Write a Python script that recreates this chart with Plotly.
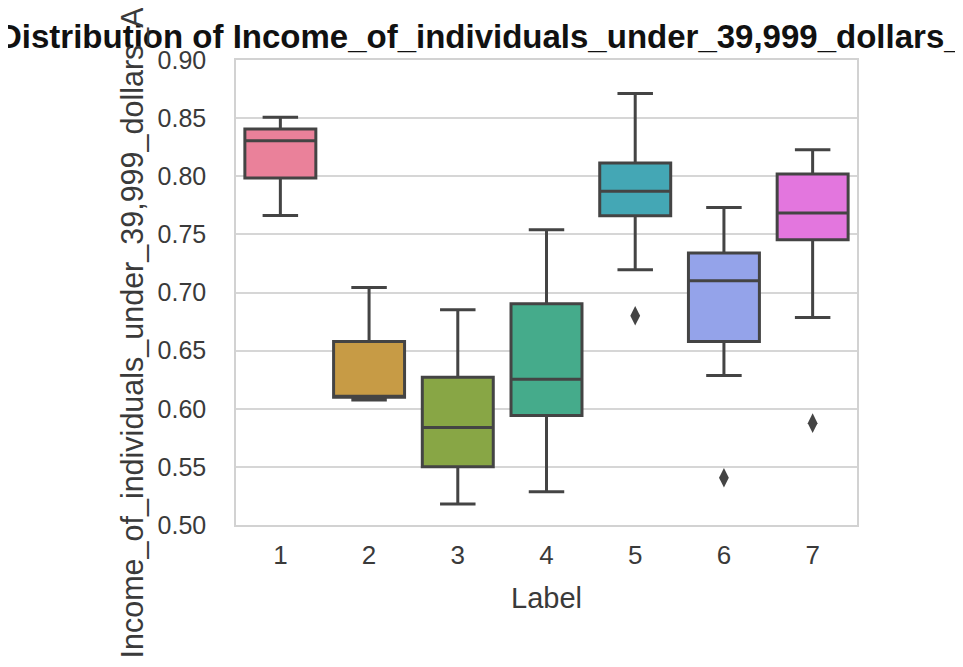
import plotly.graph_objects as go

labels = ["1", "2", "3", "4", "5", "6", "7"]
lower_fence = [0.7663, 0.6075, 0.5181, 0.5287, 0.7196, 0.6286, 0.6785]
q1 = [0.7985, 0.6100, 0.5502, 0.5941, 0.7660, 0.6578, 0.7454]
median = [0.8306, 0.6105, 0.5838, 0.6254, 0.7870, 0.7101, 0.7684]
q3 = [0.8407, 0.6578, 0.6272, 0.6903, 0.8114, 0.7339, 0.8020]
upper_fence = [0.8507, 0.7043, 0.6851, 0.7540, 0.8711, 0.7732, 0.8229]
outlier_labels = ["5", "6", "7"]
outlier_values = [0.6800, 0.5407, 0.5876]
colors = ["#ea819a", "#c79b45", "#88a645", "#45ab8b", "#44a7b5", "#94a3ea", "#e376de"]

var_name = "Income_of_individuals_under_39,999_dollars_AtHome"
title_text = "Distribution of " + var_name

LINE = "#444444"
FONT = "Liberation Sans, Arial, sans-serif"

fig = go.Figure()
for i, lab in enumerate(labels):
    fig.add_trace(go.Box(
        x=[lab], q1=[q1[i]], median=[median[i]], q3=[q3[i]],
        lowerfence=[lower_fence[i]], upperfence=[upper_fence[i]],
        fillcolor=colors[i], line=dict(color=LINE, width=3),
        width=0.8, whiskerwidth=0.5, boxpoints=False, showlegend=False,
    ))

fig.add_trace(go.Scatter(
    x=outlier_labels, y=outlier_values, mode="markers",
    marker=dict(symbol="diamond-tall", size=14, color=LINE),
    showlegend=False,
))

# screen coordinates of the plot area (the page body adds an 8px offset)
OFF = 8
L, R, T, B = 236, 857, 60, 525
W, H = 963, 667
pw, ph = R - L, B - T

fig.update_layout(
    width=W, height=H,
    margin=dict(l=L - OFF, r=W - (R - OFF), t=T - OFF, b=H - (B - OFF), autoexpand=False),
    paper_bgcolor="white", plot_bgcolor="white",
    boxmode="overlay",
    font=dict(family=FONT, color="#3a3a3a"),
    xaxis=dict(
        type="category", categoryorder="array", categoryarray=labels,
        range=[-0.5, 6.5], showgrid=False, zeroline=False,
        showline=True, mirror=True, linecolor="#d2d2d2", linewidth=1.5,
        ticks="outside", ticklen=6, tickcolor="rgba(0,0,0,0)",
        tickfont=dict(size=26, color="#3a3a3a"),
    ),
    yaxis=dict(
        range=[0.5, 0.9], tickvals=[0.50, 0.55, 0.60, 0.65, 0.70, 0.75, 0.80, 0.85, 0.90],
        tickformat=".2f", showgrid=True, gridcolor="#d6d6d6", gridwidth=1.5,
        zeroline=False, showline=True, mirror=True, linecolor="#d2d2d2", linewidth=1.5,
        ticks="outside", ticklen=23, tickcolor="rgba(0,0,0,0)",
        tickfont=dict(size=25, color="#3a3a3a"),
    ),
    annotations=[
        dict(text="<b>" + title_text + "</b>", xref="paper", yref="paper",
             x=(-4 - L) / pw, y=(B - 36) / ph, xanchor="left", yanchor="middle",
             showarrow=False, font=dict(size=33, color="#111111", family=FONT)),
        dict(text=var_name, xref="paper", yref="paper", textangle=-90,
             x=(131 - L) / pw, y=(B - 661) / ph, xanchor="center", yanchor="bottom",
             showarrow=False, font=dict(size=30.5, color="#3a3a3a", family=FONT)),
        dict(text="Label", xref="paper", yref="paper",
             x=0.5, y=(B - 598) / ph, xanchor="center", yanchor="middle",
             showarrow=False, font=dict(size=29, color="#3a3a3a", family=FONT)),
    ],
)

fig.write_html("out.html")
